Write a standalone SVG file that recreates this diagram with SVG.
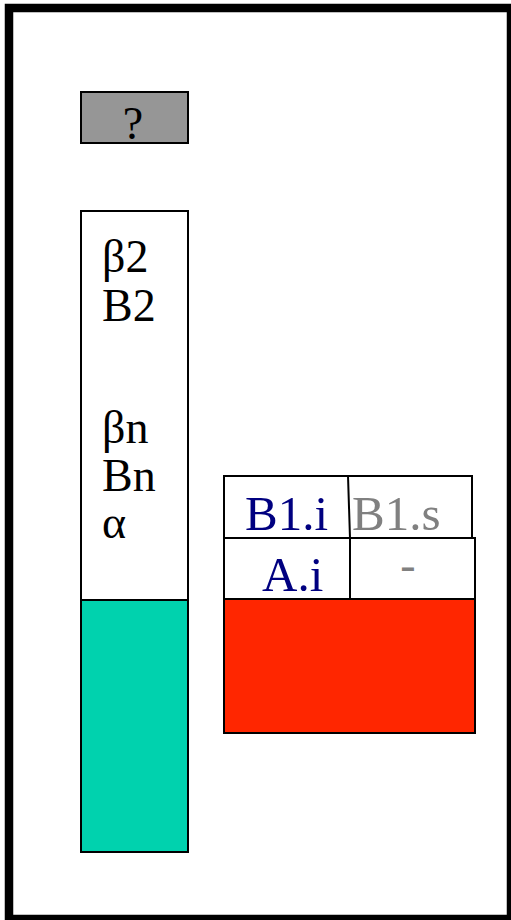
<svg xmlns="http://www.w3.org/2000/svg" width="511" height="920" viewBox="0 0 511 920">
<style>
text{font-family:'Liberation Serif','Times New Roman',Times,serif}
.t{font-size:46px;fill:#000}
.r{font-size:49px}
.box{stroke:#000;stroke-width:2}
.navy{fill:#000080}
.gray{fill:#808080}
</style>
<rect x="0" y="0" width="511" height="920" fill="#fff"/>
<rect x="9" y="8" width="502" height="911" fill="#fff" stroke="#000" stroke-width="8.5"/>
<g id="question">
<rect class="box" x="81" y="92" width="107" height="51" fill="#969696"/>
<text class="t" x="133" y="139" text-anchor="middle" font-size="42">?</text>
</g>
<g id="stack">
<rect class="box" x="81" y="211" width="107" height="389" fill="#fff"/>
<rect class="box" x="81" y="600" width="107" height="252" fill="#00D2AE"/>
<text class="t" x="102" y="272">β2</text>
<text class="t" x="102" y="321">B2</text>
<text class="t" x="102" y="443">βn</text>
<text class="t" x="102" y="491">Bn</text>
<text class="t" x="102" y="538">α</text>
</g>
<g id="table">
<rect class="box" x="224" y="538" width="251" height="61" fill="#fff"/>
<rect class="box" x="224" y="476" width="248" height="62" fill="#fff"/>
<line class="box" x1="348" y1="476" x2="350" y2="538"/>
<line class="box" x1="350" y1="538" x2="350" y2="599"/>
<rect class="box" x="224" y="599" width="251" height="134" fill="#FF2600"/>
<text class="t r navy" x="245" y="530">B1.i</text>
<text class="t r gray" x="352" y="530">B1.s</text>
<text class="t r navy" x="262" y="591">A.i</text>
<text class="t gray" x="408" y="580" text-anchor="middle" font-size="26">-</text>
</g>
</svg>
